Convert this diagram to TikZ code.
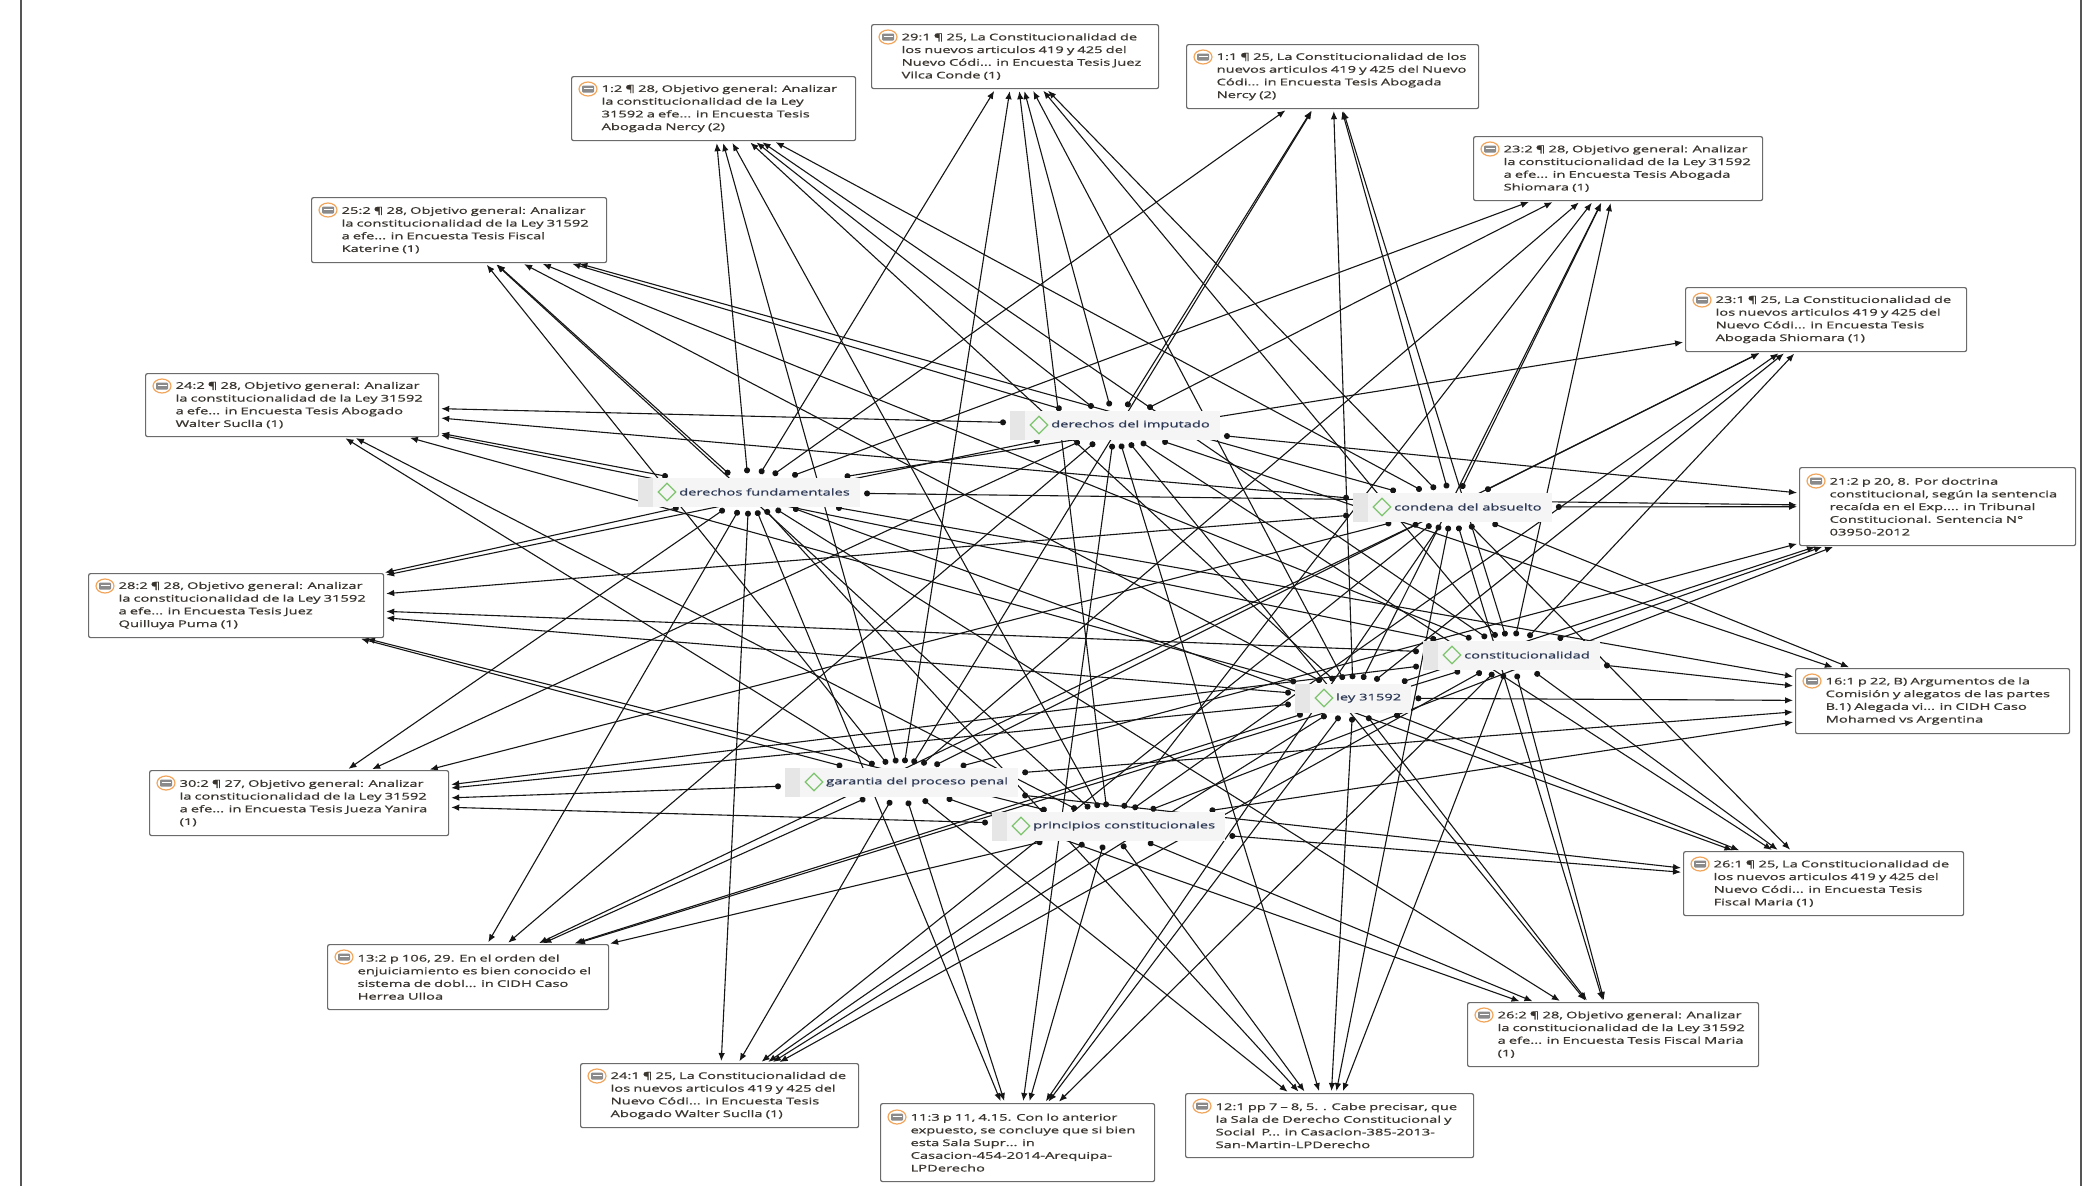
\documentclass[tikz,border=0pt]{standalone}
\usepackage{fontspec}
\newfontfamily\qfont[FakeStretch=1.6, FakeBold=1.0]{Open Sans}
\usetikzlibrary{arrows.meta,shapes.geometric,backgrounds}
\definecolor{qborder}{HTML}{6B6B6B}
\definecolor{qtext}{HTML}{3A352F}
\definecolor{ctext}{HTML}{2F3B57}
\definecolor{codebg}{HTML}{F5F5F5}
\definecolor{codestrip}{HTML}{E6E6E6}
\definecolor{codegreen}{HTML}{7DC46E}
\definecolor{iconorange}{HTML}{F2A55A}
\definecolor{icongray}{HTML}{8A8A8A}
\definecolor{linkc}{HTML}{151515}
\definecolor{framec}{HTML}{555555}
\newcommand\qtl[1]{\hspace*{30pt}\mbox{#1}}
\begin{document}
\begin{tikzpicture}[x=1pt,y=-1pt,
  qbox/.style={draw=qborder, fill=white, line width=1.2pt, rounded corners=2pt,
    inner xsep=0pt, inner ysep=0pt, align=left, anchor=north west,
    font=\qfont\fontsize{9.2pt}{12.7pt}\selectfont, text=qtext},
  codebox/.style={fill=codebg, anchor=west, minimum height=29pt, inner xsep=10pt,
    inner ysep=0pt, font=\qfont\fontsize{9.2pt}{11pt}\selectfont, text=ctext,
    path picture={\fill[codestrip] (path picture bounding box.south west) rectangle ([xshift=15pt]path picture bounding box.north west);}},
  diam/.style={diamond, draw=codegreen, line width=1.3pt, minimum width=18pt,
    minimum height=18pt, inner sep=0pt},
  link/.style={line width=1.1pt, draw=linkc, shorten <=4pt, shorten >=2pt,
    {Circle[length=6pt]}-{Latex[length=8pt,width=6.5pt]}},
  framel/.style={draw=framec, line width=1.5pt},
  qicon/.pic={
    \draw[draw=iconorange, line width=1.2pt, fill=white] (0,0) ellipse [x radius=9pt, y radius=7pt];
    \fill[icongray, rounded corners=1pt] (-6pt,-3.5pt) rectangle (6pt,3.5pt);
    \draw[white, line width=0.7pt] (-4.5pt,0.8pt) -- (4.5pt,0.8pt);
  }]
\useasboundingbox (0,0) rectangle (2092,1186);
\draw[framel] (21,0) -- (21,1186);
\draw[framel] (2081,0) -- (2081,1186);

% quotation boxes
\node[qbox, text width=287pt, minimum height=64pt] (q291) at (871,24) {\qtl{29:1 ¶ 25, La Constitucionalidad de}\\\qtl{los nuevos articulos 419 y 425 del}\\\qtl{Nuevo Códi... in Encuesta Tesis Juez}\\\qtl{Vilca Conde (1)}};
\node[qbox, text width=284pt, minimum height=64pt] (q12) at (571,76) {\qtl{1:2 ¶ 28, Objetivo general: Analizar}\\\qtl{la constitucionalidad de la Ley}\\\qtl{31592 a efe... in Encuesta Tesis}\\\qtl{Abogada Nercy (2)}};
\node[qbox, text width=292pt, minimum height=64pt] (q11) at (1186,44) {\qtl{1:1 ¶ 25, La Constitucionalidad de los}\\\qtl{nuevos articulos 419 y 425 del Nuevo}\\\qtl{Códi... in Encuesta Tesis Abogada}\\\qtl{Nercy (2)}};
\node[qbox, text width=289pt, minimum height=64pt] (q232) at (1473,136) {\qtl{23:2 ¶ 28, Objetivo general: Analizar}\\\qtl{la constitucionalidad de la Ley 31592}\\\qtl{a efe... in Encuesta Tesis Abogada}\\\qtl{Shiomara (1)}};
\node[qbox, text width=295pt, minimum height=65pt] (q252) at (311,197) {\qtl{25:2 ¶ 28, Objetivo general: Analizar}\\\qtl{la constitucionalidad de la Ley 31592}\\\qtl{a efe... in Encuesta Tesis Fiscal}\\\qtl{Katerine (1)}};
\node[qbox, text width=281pt, minimum height=64pt] (q231) at (1685,287) {\qtl{23:1 ¶ 25, La Constitucionalidad de}\\\qtl{los nuevos articulos 419 y 425 del}\\\qtl{Nuevo Códi... in Encuesta Tesis}\\\qtl{Abogada Shiomara (1)}};
\node[qbox, text width=293pt, minimum height=63pt] (q242) at (145,373) {\qtl{24:2 ¶ 28, Objetivo general: Analizar}\\\qtl{la constitucionalidad de la Ley 31592}\\\qtl{a efe... in Encuesta Tesis Abogado}\\\qtl{Walter Suclla (1)}};
\node[qbox, text width=276pt, minimum height=78pt] (q212) at (1799,467) {\qtl{21:2 p 20, 8. Por doctrina}\\\qtl{constitucional, según la sentencia}\\\qtl{recaída en el Exp.... in Tribunal}\\\qtl{Constitucional. Sentencia N°}\\\qtl{03950-2012}};
\node[qbox, text width=295pt, minimum height=64pt] (q282) at (88,573) {\qtl{28:2 ¶ 28, Objetivo general: Analizar}\\\qtl{la constitucionalidad de la Ley 31592}\\\qtl{a efe... in Encuesta Tesis Juez}\\\qtl{Quilluya Puma (1)}};
\node[qbox, text width=274pt, minimum height=65pt] (q161) at (1795,668) {\qtl{16:1 p 22, B) Argumentos de la}\\\qtl{Comisión y alegatos de las partes}\\\qtl{B.1) Alegada vi... in CIDH Caso}\\\qtl{Mohamed vs Argentina}};
\node[qbox, text width=299pt, minimum height=65pt] (q302) at (149,770) {\qtl{30:2 ¶ 27, Objetivo general: Analizar}\\\qtl{la constitucionalidad de la Ley 31592}\\\qtl{a efe... in Encuesta Tesis Jueza Yanira}\\\qtl{(1)}};
\node[qbox, text width=280pt, minimum height=64pt] (q261) at (1683,851) {\qtl{26:1 ¶ 25, La Constitucionalidad de}\\\qtl{los nuevos articulos 419 y 425 del}\\\qtl{Nuevo Códi... in Encuesta Tesis}\\\qtl{Fiscal Maria (1)}};
\node[qbox, text width=281pt, minimum height=65pt] (q132) at (327,944) {\qtl{13:2 p 106, 29. En el orden del}\\\qtl{enjuiciamiento es bien conocido el}\\\qtl{sistema de dobl... in CIDH Caso}\\\qtl{Herrea Ulloa}};
\node[qbox, text width=291pt, minimum height=64pt] (q262) at (1467,1002) {\qtl{26:2 ¶ 28, Objetivo general: Analizar}\\\qtl{la constitucionalidad de la Ley 31592}\\\qtl{a efe... in Encuesta Tesis Fiscal Maria}\\\qtl{(1)}};
\node[qbox, text width=278pt, minimum height=64pt] (q241) at (580,1063) {\qtl{24:1 ¶ 25, La Constitucionalidad de}\\\qtl{los nuevos articulos 419 y 425 del}\\\qtl{Nuevo Códi... in Encuesta Tesis}\\\qtl{Abogado Walter Suclla (1)}};
\node[qbox, text width=274pt, minimum height=78pt] (q113) at (880,1103) {\qtl{11:3 p 11, 4.15. Con lo anterior}\\\qtl{expuesto, se concluye que si bien}\\\qtl{esta Sala Supr... in}\\\qtl{Casacion-454-2014-Arequipa-}\\\qtl{LPDerecho}};
\node[qbox, text width=288pt, minimum height=64pt] (q121) at (1185,1093) {\qtl{12:1 pp 7 – 8, 5. . Cabe precisar, que}\\\qtl{la Sala de Derecho Constitucional y}\\\qtl{Social\ \ P... in Casacion-385-2013-}\\\qtl{San-Martin-LPDerecho}};

% quotation icons
\pic at (888,37) {qicon};
\pic at (588,89) {qicon};
\pic at (1203,57) {qicon};
\pic at (1490,149) {qicon};
\pic at (328,210) {qicon};
\pic at (1702,300) {qicon};
\pic at (162,386) {qicon};
\pic at (1816,481) {qicon};
\pic at (105,586) {qicon};
\pic at (1812,681) {qicon};
\pic at (166,783) {qicon};
\pic at (1700,864) {qicon};
\pic at (344,957) {qicon};
\pic at (1484,1015) {qicon};
\pic at (597,1076) {qicon};
\pic at (897,1117) {qicon};
\pic at (1202,1106) {qicon};

% code nodes
\node[codebox] (imp) at (1010,425) {\hspace*{31pt}derechos del imputado};
\node[diam] (impd) at ([xshift=29pt]imp.west) {};
\node[codebox] (fun) at (638,492) {\hspace*{31pt}derechos fundamentales};
\node[diam] (fund) at ([xshift=29pt]fun.west) {};
\node[codebox] (abs) at (1353,507) {\hspace*{31pt}condena del absuelto};
\node[diam] (absd) at ([xshift=29pt]abs.west) {};
\node[codebox] (con) at (1423,655) {\hspace*{31pt}constitucionalidad};
\node[diam] (cond) at ([xshift=29pt]con.west) {};
\node[codebox] (ley) at (1295,698) {\hspace*{31pt}ley 31592};
\node[diam] (leyd) at ([xshift=29pt]ley.west) {};
\node[codebox] (gar) at (785,782) {\hspace*{31pt}garantia del proceso penal};
\node[diam] (gard) at ([xshift=29pt]gar.west) {};
\node[codebox] (pri) at (992,826) {\hspace*{31pt}principios constitucionales};
\node[diam] (prid) at ([xshift=29pt]pri.west) {};

% links
\begin{pgfonlayer}{background}
\foreach \c in {fun,imp,abs,con,ley,gar,pri} \draw[link] (\c) -- (q291);
\foreach \c in {fun,imp,abs,con,ley,gar,pri} \draw[link] (\c) -- (q12);
\foreach \c in {fun,imp,abs,con,ley,gar} \draw[link] (\c) -- (q11);
\foreach \c in {fun,imp,abs,con,ley,gar,pri} \draw[link] (\c) -- (q232);
\foreach \c in {fun,imp,abs,con,ley,gar,pri} \draw[link] (\c) -- (q252);
\foreach \c in {fun,abs,con,ley,gar,pri} \draw[link] (\c) -- (q231);
\foreach \c in {fun,imp,abs,con,ley,gar,pri} \draw[link] (\c) -- (q242);
\foreach \c in {fun,imp,abs,con,ley,gar,pri} \draw[link] (\c) -- (q212);
\foreach \c in {fun,imp,abs,con,ley,gar,pri} \draw[link] (\c) -- (q282);
\foreach \c in {fun,imp,abs,con,ley,gar,pri} \draw[link] (\c) -- (q161);
\foreach \c in {fun,imp,abs,con,ley,gar,pri} \draw[link] (\c) -- (q302);
\foreach \c in {fun,imp,abs,con,ley,gar,pri} \draw[link] (\c) -- (q261);
\foreach \c in {fun,imp,abs,con,ley,gar,pri} \draw[link] (\c) -- (q132);
\foreach \c in {fun,imp,abs,con,ley,gar,pri} \draw[link] (\c) -- (q262);
\foreach \c in {fun,abs,con,ley,gar,pri} \draw[link] (\c) -- (q241);
\foreach \c in {fun,imp,abs,con,ley,gar,pri} \draw[link] (\c) -- (q113);
\foreach \c in {fun,imp,abs,con,ley,gar,pri} \draw[link] (\c) -- (q121);
\end{pgfonlayer}
\end{tikzpicture}
\end{document}
